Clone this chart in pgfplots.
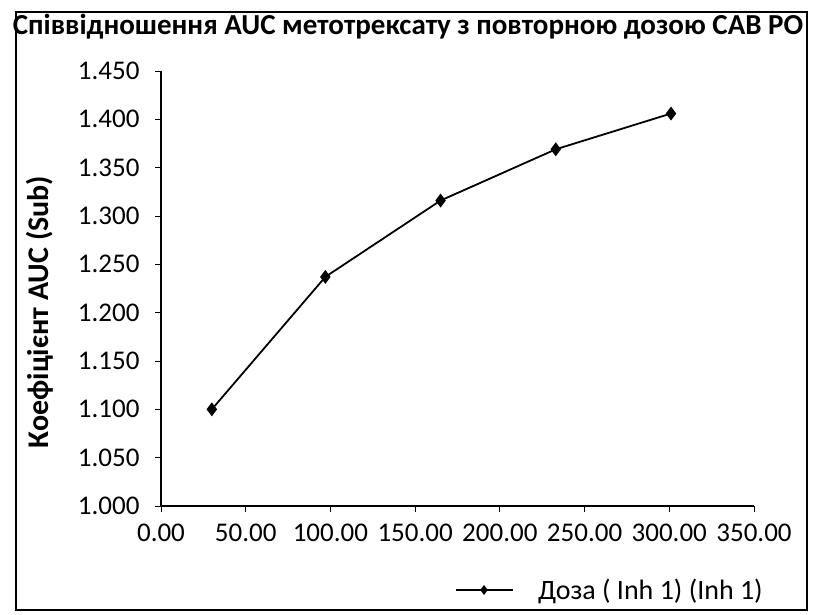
\documentclass[border=0pt]{standalone}
\usepackage{pgfplots}
\pgfplotsset{compat=1.18}
\usepackage{fontspec}
\setmainfont{Carlito}
\begin{document}
\begin{tikzpicture}[x=1pt,y=1pt]
\useasboundingbox (-161,-109) rectangle (652,506);
\draw[line width=1.8pt] (-145,-104) rectangle (646,494);
\begin{axis}[
  at={(0,0)}, anchor=south west,
  scale only axis, width=593pt, height=435pt,
  xmin=0, xmax=350, ymin=1, ymax=1.45,
  axis x line=bottom, axis y line=left,
  axis line style={-, line width=1.4pt},
  xtick={0,50,...,350}, ytick={1,1.05,...,1.46},
  tick align=outside, major tick length=6pt,
  tick style={line width=0.9pt, black},
  /pgf/number format/assume math mode=true,
  xticklabel style={/pgf/number format/.cd, fixed, fixed zerofill, precision=2},
  yticklabel style={/pgf/number format/.cd, fixed, fixed zerofill, precision=3},
  ticklabel style={font=\fontsize{27}{29}\selectfont},
  xticklabel shift=8pt, yticklabel shift=12pt,
  legend style={draw=none, fill=none, at={(607pt,-84pt)}, anchor=east,
    font=\fontsize{28}{30}\selectfont, legend cell align=left},
  legend image code/.code={\draw[#1, mark size=3.5pt, mark repeat=2, mark phase=2]
     plot coordinates {(0pt,0pt) (28pt,0pt) (57pt,0pt)};
     \path[draw=none, fill=none] (0pt,0pt) -- (80pt,0pt);},
]
\addplot[black, line width=1.8pt, mark=diamond*, mark size=5.5pt, mark options={fill=black}]
  coordinates {(30,1.100) (97,1.237) (165,1.316) (233,1.369) (301,1.406)};
\addlegendentry{Доза ( Inh 1) (Inh 1)}
\end{axis}
\node[font=\bfseries\fontsize{29}{31}\selectfont] at (247,479) {Співвідношення AUC метотрексату з повторною дозою CAB PO};
\node[font=\bfseries\fontsize{30}{32}\selectfont, rotate=90] at (-121,194) {Коефіцієнт AUC (Sub)};
\end{tikzpicture}
\end{document}
